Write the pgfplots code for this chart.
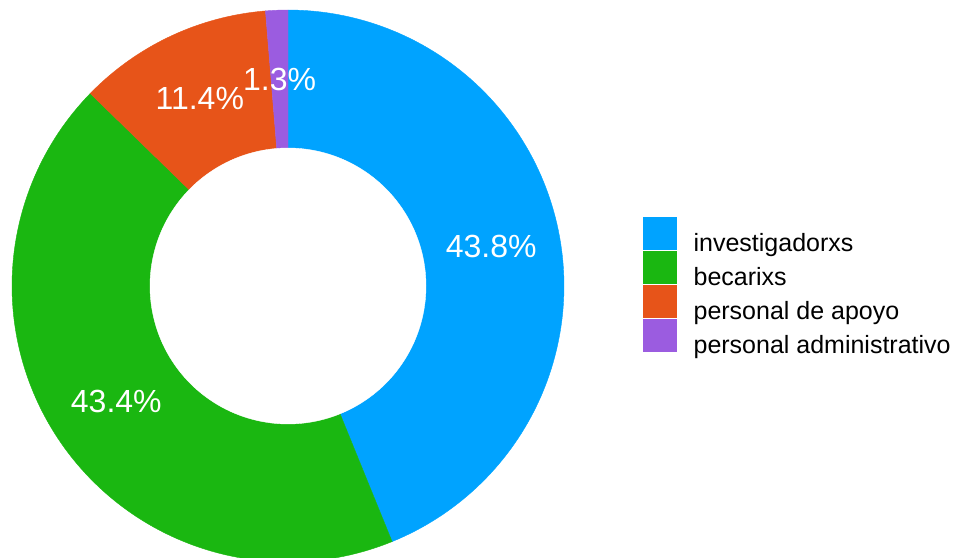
\documentclass[border=0pt]{standalone}
\usepackage{pgfplots}
\pgfplotsset{compat=1.18}
\usepackage{fontspec}
\setmainfont{Liberation Sans}
\definecolor{cA}{HTML}{00A3FF}
\definecolor{cB}{HTML}{1AB711}
\definecolor{cC}{HTML}{E75419}
\definecolor{cD}{HTML}{9B5CE0}
% values (percent)
\def\vA{43.8}\def\vB{43.4}\def\vC{11.4}\def\vD{1.3}
\begin{document}
\begin{tikzpicture}
\pgfmathsetmacro\tot{\vA+\vB+\vC+\vD}
\pgfmathsetmacro\aA{90}
\pgfmathsetmacro\aB{\aA-360*\vA/\tot}
\pgfmathsetmacro\aC{\aB-360*\vB/\tot}
\pgfmathsetmacro\aD{\aC-360*\vC/\tot}
\pgfmathsetmacro\aE{\aD-360*\vD/\tot}
\pgfmathsetmacro\mA{(\aA+\aB)/2}
\pgfmathsetmacro\mB{(\aB+\aC)/2}
\pgfmathsetmacro\mC{(\aC+\aD)/2}
\pgfmathsetmacro\mD{(\aD+\aE)/2}
\begin{axis}[
  width=955pt, height=557pt, scale only axis,
  xmin=0, xmax=955, ymin=0, ymax=557,
  axis lines=none, clip=true,
  legend cell align=left,
  legend image code/.code={\path[#1] (0pt,-6pt) rectangle (33pt,26pt);},
  legend style={at={(axis cs:643,340)}, anchor=north west, draw=none, fill=none,
    inner sep=0pt, font=\fontsize{25}{30}\selectfont, row sep=-2pt,
    nodes={inner sep=0pt},
    /tikz/every odd column/.append style={column sep=17pt}},
]
\addplot[fill=cA, draw=cA, line width=0.4pt, domain=\aB:\aA, samples=120, variable=\t]
  ({288+276*cos(\t)},{271+276*sin(\t)}) -- (axis cs:288,271) -- cycle;
\addlegendentry{investigadorxs}
\addplot[fill=cB, draw=cB, line width=0.4pt, domain=\aC:\aB, samples=120, variable=\t]
  ({288+276*cos(\t)},{271+276*sin(\t)}) -- (axis cs:288,271) -- cycle;
\addlegendentry{becarixs}
\addplot[fill=cC, draw=cC, line width=0.4pt, domain=\aD:\aC, samples=60, variable=\t]
  ({288+276*cos(\t)},{271+276*sin(\t)}) -- (axis cs:288,271) -- cycle;
\addlegendentry{personal de apoyo}
\addplot[fill=cD, draw=cD, line width=0.4pt, domain=\aE:\aD, samples=10, variable=\t]
  ({288+276*cos(\t)},{271+276*sin(\t)}) -- (axis cs:288,271) -- cycle;
\addlegendentry{personal administrativo}
\addplot[fill=white, draw=white, line width=0.4pt, domain=0:360, samples=180, variable=\t, forget plot]
  ({288+138*cos(\t)},{271+138*sin(\t)}) -- cycle;
\node[text=white, font=\fontsize{32}{38}\selectfont] at (axis cs:{288+207*cos(\mA)},{271+207*sin(\mA)}) {\vA\%};
\node[text=white, font=\fontsize{32}{38}\selectfont] at (axis cs:{288+207*cos(\mB)},{271+207*sin(\mB)}) {\vB\%};
\node[text=white, font=\fontsize{32}{38}\selectfont] at (axis cs:{288+207*cos(\mC)},{271+207*sin(\mC)}) {\vC\%};
\node[text=white, font=\fontsize{32}{38}\selectfont] at (axis cs:{288+207*cos(\mD)},{271+207*sin(\mD)}) {\vD\%};
\end{axis}
\path[use as bounding box] (current axis.south west) rectangle (current axis.north east);
\end{tikzpicture}
\end{document}
